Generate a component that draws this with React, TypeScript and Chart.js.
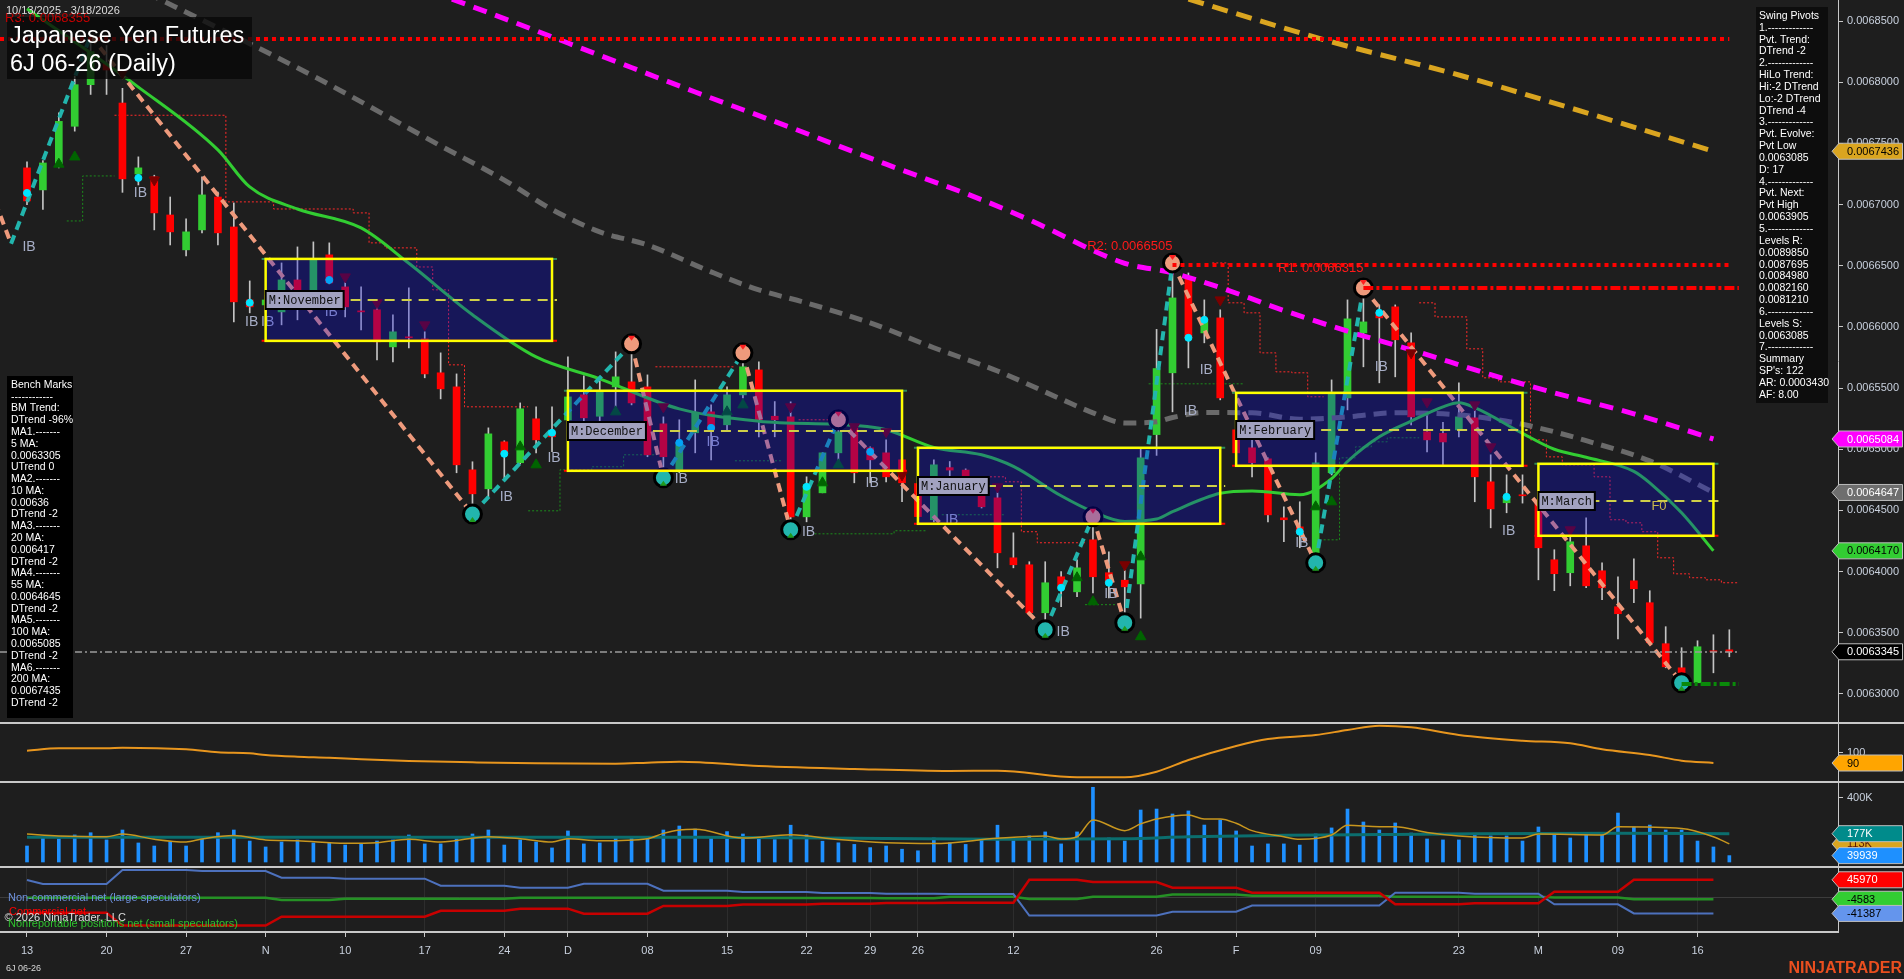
import React, { useEffect, useRef } from 'react';
import { Chart, registerables } from 'chart.js';

Chart.register(...registerables);

const FONT = '"Liberation Sans", Arial, Helvetica, sans-serif';
const MONO = '"Liberation Mono", "Courier New", monospace';
const W = 1904;
const AXIS_W = 66;
const PLOT_R = W - AXIS_W;
const X_MIN = -1.697;
const X_MAX = 113.83;
const BG = '#1e1e1e';
const AXIS_TXT = '#c9d1de';
const LINE_C = '#c8c8c8';

// ---------------- price data (daily bars, index 0 = Oct 13 2025) ----------------
const opens = [
  0.0067300, 0.0067120, 0.0067330, 0.0067640, 0.0067980, 0.0068150, 0.0067830, 0.0067250, 0.0067226, 0.0066915,
  0.0066630, 0.0066793, 0.0067062, 0.0066817, 0.0066221, 0.0066180, 0.0066123, 0.0066384, 0.0066164, 0.0066589,
  0.0066327, 0.0066131, 0.0066140, 0.0065837, 0.0065919, 0.0065902, 0.0065625, 0.0065510, 0.0064832, 0.0064677,
  0.0065061, 0.0064890, 0.0065249, 0.0065135, 0.0065240, 0.0065445, 0.0065270, 0.0065510, 0.0065551, 0.0065510,
  0.0065208, 0.0064816, 0.0065135, 0.0065306, 0.0065200, 0.0065445, 0.0065649, 0.0065270, 0.0065265, 0.0064448,
  0.0064644, 0.0064971, 0.0065175, 0.0065012, 0.0064971, 0.0064914, 0.0064720, 0.0064424, 0.0064850, 0.0064830,
  0.0064690, 0.0064603, 0.0064113, 0.0064056, 0.0063664, 0.0063958, 0.0063835, 0.0064260, 0.0063991, 0.0063930,
  0.0063900, 0.0065120, 0.0065625, 0.0066401, 0.0065951, 0.0066074, 0.0065159, 0.0065012, 0.0064922, 0.0064440,
  0.0064366, 0.0064154, 0.0064808, 0.0065420, 0.0065951, 0.0066115, 0.0066164, 0.0065870, 0.0065143, 0.0065130,
  0.0065159, 0.0065257, 0.0064734, 0.0064563, 0.0064628, 0.0064587, 0.0064097, 0.0063991, 0.0064211, 0.0064007,
  0.0063713, 0.0063925, 0.0063746, 0.0063411, 0.0063214, 0.0063092, 0.0063353, 0.0063361,
];
const highs = [
  0.0067350, 0.0067360, 0.0067750, 0.0068050, 0.0068380, 0.0068300, 0.0067950, 0.0067390, 0.0067240, 0.0067062,
  0.0066883, 0.0067226, 0.0067103, 0.0067013, 0.0066376, 0.0066260, 0.0066523, 0.0066654, 0.0066695, 0.0066687,
  0.0066425, 0.0066327, 0.0066221, 0.0066099, 0.0066319, 0.0065960, 0.0065788, 0.0065616, 0.0064898, 0.0065175,
  0.0065069, 0.0065379, 0.0065347, 0.0065347, 0.0065755, 0.0065600, 0.0065560, 0.0065796, 0.0065870, 0.0065608,
  0.0065265, 0.0065241, 0.0065567, 0.0065363, 0.0065510, 0.0065788, 0.0065714, 0.0065390, 0.0065388, 0.0064775,
  0.0064971, 0.0065241, 0.0065200, 0.0065020, 0.0065077, 0.0064920, 0.0064760, 0.0064914, 0.0064900, 0.0064840,
  0.0064770, 0.0064644, 0.0064317, 0.0064081, 0.0064081, 0.0064000, 0.0064097, 0.0064448, 0.0064162, 0.0064040,
  0.0065000, 0.0065980, 0.0066523, 0.0066441, 0.0066221, 0.0066140, 0.0065200, 0.0065135, 0.0064930, 0.0064530,
  0.0064571, 0.0064971, 0.0065567, 0.0066221, 0.0066319, 0.0066180, 0.0066180, 0.0065951, 0.0065298, 0.0065220,
  0.0065543, 0.0065363, 0.0064955, 0.0064791, 0.0064791, 0.0064600, 0.0064179, 0.0064285, 0.0064440, 0.0064072,
  0.0063958, 0.0064105, 0.0063844, 0.0063550, 0.0063378, 0.0063435, 0.0063484, 0.0063525,
];
const lows = [
  0.0067000, 0.0066960, 0.0067300, 0.0067600, 0.0067900, 0.0067900, 0.0067100, 0.0067160, 0.0066793, 0.0066670,
  0.0066580, 0.0066769, 0.0066670, 0.0066041, 0.0066115, 0.0066120, 0.0066017, 0.0066058, 0.0066150, 0.0066352,
  0.0066082, 0.0065976, 0.0065731, 0.0065714, 0.0065829, 0.0065584, 0.0065412, 0.0064808, 0.0064470, 0.0064612,
  0.0064767, 0.0064880, 0.0064971, 0.0064980, 0.0065200, 0.0065200, 0.0065230, 0.0065347, 0.0065363, 0.0064939,
  0.0064767, 0.0064808, 0.0064971, 0.0064914, 0.0065150, 0.0065420, 0.0065102, 0.0065102, 0.0064342, 0.0064407,
  0.0064644, 0.0064857, 0.0064726, 0.0064726, 0.0064734, 0.0064571, 0.0064420, 0.0064407, 0.0064780, 0.0064640,
  0.0064520, 0.0064031, 0.0064031, 0.0063648, 0.0063525, 0.0063713, 0.0063795, 0.0063827, 0.0063786, 0.0063582,
  0.0063620, 0.0064950, 0.0065306, 0.0065665, 0.0065870, 0.0065404, 0.0064950, 0.0064775, 0.0064407, 0.0064244,
  0.0064195, 0.0064072, 0.0064790, 0.0065322, 0.0065674, 0.0065543, 0.0065592, 0.0065200, 0.0064979, 0.0064860,
  0.0065102, 0.0064571, 0.0064358, 0.0064481, 0.0064560, 0.0063933, 0.0063844, 0.0063884, 0.0063868, 0.0063770,
  0.0063451, 0.0063746, 0.0063419, 0.0063214, 0.0063092, 0.0063092, 0.0063173, 0.0063304,
];
const closes = [
  0.0067030, 0.0067340, 0.0067680, 0.0067980, 0.0068250, 0.0068100, 0.0067210, 0.0067300, 0.0066932, 0.0066777,
  0.0066777, 0.0067079, 0.0066769, 0.0066205, 0.0066164, 0.0066220, 0.0066384, 0.0066164, 0.0066548, 0.0066360,
  0.0066164, 0.0066123, 0.0065878, 0.0065960, 0.0065911, 0.0065616, 0.0065494, 0.0064873, 0.0064636, 0.0065126,
  0.0064971, 0.0065331, 0.0065077, 0.0065102, 0.0065428, 0.0065257, 0.0065470, 0.0065592, 0.0065379, 0.0064955,
  0.0064939, 0.0065053, 0.0065298, 0.0065159, 0.0065445, 0.0065674, 0.0065241, 0.0065241, 0.0064448, 0.0064709,
  0.0064971, 0.0065143, 0.0064808, 0.0064914, 0.0064775, 0.0064726, 0.0064450, 0.0064873, 0.0064830, 0.0064650,
  0.0064530, 0.0064154, 0.0064056, 0.0063664, 0.0063909, 0.0063876, 0.0064031, 0.0063958, 0.0063909, 0.0063876,
  0.0064930, 0.0065660, 0.0066237, 0.0065911, 0.0066058, 0.0065420, 0.0064971, 0.0064890, 0.0064464, 0.0064424,
  0.0064317, 0.0064890, 0.0065461, 0.0066066, 0.0066041, 0.0066074, 0.0065895, 0.0065265, 0.0065077, 0.0065060,
  0.0065265, 0.0064775, 0.0064513, 0.0064612, 0.0064620, 0.0064195, 0.0063983, 0.0064244, 0.0063884, 0.0063868,
  0.0063656, 0.0063860, 0.0063419, 0.0063222, 0.0063173, 0.0063386, 0.0063345, 0.0063345,
];

// moving averages (bar index / value)
const ma20Idx = [0, 7, 12, 14, 17, 21, 24, 28, 32, 36, 41, 46, 52, 54, 57, 60, 62, 65, 67, 69, 71, 72, 75, 77, 80, 82, 83, 85, 87, 89, 90, 91, 94, 96, 98, 101, 102, 104, 106];
const ma20Val = [0.0068600, 0.0067960, 0.0067447, 0.0067144, 0.0066964, 0.0066809, 0.0066520, 0.0066100, 0.0065755, 0.0065576, 0.0065330, 0.0065230, 0.0065195, 0.0065160, 0.0065015, 0.0064955, 0.0064860, 0.0064620, 0.0064490, 0.0064410, 0.0064430, 0.0064490, 0.0064640, 0.0064660, 0.0064628, 0.0064760, 0.0064900, 0.0065102, 0.0065230, 0.0065347, 0.0065380, 0.0065340, 0.0065130, 0.0065000, 0.0064935, 0.0064820, 0.0064726, 0.0064481, 0.0064170];
const ma55Idx = [-2, 8, 18, 26, 30, 33, 36, 39, 43, 46, 49, 53, 57, 61, 65, 67, 69, 71, 72, 74, 77, 80, 83, 86, 89, 92, 95, 98, 102, 106];
const ma55Val = [0.0069327, 0.0068700, 0.0068050, 0.0067480, 0.0067200, 0.0066960, 0.0066777, 0.0066670, 0.0066450, 0.0066303, 0.0066196, 0.0066033, 0.0065830, 0.0065640, 0.0065410, 0.0065298, 0.0065215, 0.0065225, 0.0065260, 0.0065300, 0.0065298, 0.0065245, 0.0065265, 0.0065298, 0.0065290, 0.0065250, 0.0065175, 0.0065070, 0.0064905, 0.0064647];
const ma100Idx = [24, 30, 36, 42, 48, 54, 60, 63, 69, 72, 77, 78, 83, 87, 92, 96, 101, 106];
const ma100Val = [0.0068810, 0.0068520, 0.0068220, 0.0067920, 0.0067630, 0.0067330, 0.0067040, 0.0066875, 0.0066520, 0.0066442, 0.0066230, 0.0066180, 0.0065965, 0.0065813, 0.0065610, 0.0065461, 0.0065290, 0.0065084];
const ma200Idx = [70, 74, 82, 90, 97, 106];
const ma200Val = [0.0068800, 0.0068640, 0.0068330, 0.0068059, 0.0067790, 0.0067436];

// swing pivots (zig-zag)
const swingIdx = [-3, -1, 4, 28, 38, 40, 45, 48, 51, 64, 67, 69, 72, 81, 84, 104];
const swingPx = [0.0067365, 0.0066680, 0.0068380, 0.0064470, 0.0065862, 0.0064767, 0.0065788, 0.0064342, 0.0065241, 0.0063525, 0.0064448, 0.0063582, 0.0066523, 0.0064072, 0.0066319, 0.0063092];
const swingKind = ['H', 'L', 'H', 'L', 'H', 'L', 'H', 'L', 'H', 'L', 'H', 'L', 'H', 'L', 'H', 'L'];
const swingMarked = [false, false, false, true, true, true, true, true, true, true, true, true, true, true, true, true];

// levels
const levelR3 = 0.0068355;
const levelR2 = 0.0066505;
const levelR1 = 0.0066315;
const levelS1 = 0.0063085;
const lastClose = 0.0063345;

// month boxes
const monthNames = ['November', 'December', 'January', 'February', 'March'];
const boxStart = [15, 34, 56, 76, 95];
const boxEnd = [33, 55, 75, 94, 106];
const boxHigh = [0.0066556, 0.0065478, 0.0065012, 0.0065461, 0.0064881];
const boxLow = [0.0065886, 0.0064824, 0.0064391, 0.0064865, 0.0064293];
const boxMid = [0.0066221, 0.0065151, 0.0064701, 0.0065159, 0.0064579];

// markers
const upTriIdx = [2, 3, 31, 32, 37, 44, 45, 50, 51, 66, 67, 70, 70, 81, 82];
const upTriPx = [0.0067330, 0.0067389, 0.0065020, 0.0064873, 0.0065306, 0.0065306, 0.0065363, 0.0064726, 0.0064873, 0.0063950, 0.0063754, 0.0064121, 0.0063468, 0.0064530, 0.0064571];
const dnTriIdx = [6, 8, 20, 22, 25, 40, 48, 52, 54, 55, 61, 69, 75, 87, 88, 91, 92, 97];
const dnTriPx = [0.0068076, 0.0067201, 0.0066409, 0.0066197, 0.0066017, 0.0065347, 0.0065347, 0.0065184, 0.0065143, 0.0064791, 0.0064693, 0.0064056, 0.0066221, 0.0065788, 0.0065388, 0.0065363, 0.0065020, 0.0064342];
const dotIdx = [0, 7, 14, 19, 30, 33, 41, 43, 49, 53, 65, 68, 73, 74, 80, 85, 93];
const dotPx = [0.0067095, 0.0067218, 0.0066197, 0.0066384, 0.0064963, 0.0065135, 0.0065053, 0.0065175, 0.0064693, 0.0064979, 0.0063868, 0.0063909, 0.0065911, 0.0066058, 0.0064326, 0.0066115, 0.0064611];
const ibIdx = [0, 7, 14, 15, 19, 30, 33, 41, 43, 49, 53, 58, 65, 68, 73, 74, 80, 85, 93];
const ibPx = [0.0066654, 0.0067095, 0.0066041, 0.0066041, 0.0066123, 0.0064611, 0.0064930, 0.0064759, 0.0065061, 0.0064326, 0.0064726, 0.0064424, 0.0063509, 0.0063819, 0.0065314, 0.0065649, 0.0064236, 0.0065674, 0.0064334];

// trailing stop steps (per bar, null = not plotted)
const N = null;
const redStop = [
  N, N, N, N, N, N, 0.0067730, 0.0067730, 0.0067730, 0.0067730,
  0.0067730, 0.0067730, 0.0067730, 0.0067022, 0.0067022, 0.0067022, 0.0066964, 0.0066964, 0.0066964, 0.0066964,
  0.0066964, 0.0066932, 0.0066687, 0.0066646, 0.0066646, 0.0066490, 0.0066303, 0.0065690, 0.0065347, 0.0065347,
  0.0065347, 0.0065347, N, N, N, N, N, N, N, N,
  0.0065674, 0.0065674, 0.0065674, 0.0065674, 0.0065674, N, N, N, N, 0.0065241,
  0.0065241, N, N, N, N, N, N, 0.0064775, 0.0064775, 0.0064775,
  0.0064775, 0.0064775, 0.0064734, 0.0064326, 0.0064236, 0.0064236, 0.0064236, N, N, N,
  N, N, N, N, N, 0.0066523, 0.0066197, 0.0066115, 0.0065788, 0.0065633,
  0.0065625, 0.0065429, N, N, N, N, N, N, 0.0066197, 0.0066082,
  0.0066082, 0.0065821, 0.0065584, 0.0065551, 0.0065551, 0.0065077, 0.0064938, 0.0064873, 0.0064873, 0.0064775,
  0.0064424, 0.0064399, 0.0064326, 0.0064113, 0.0063982, 0.0063950, 0.0063933, 0.0063909,
];
const greenStop = [
  N, N, N, 0.0066866, 0.0067234, 0.0067234, N, N, N, N,
  N, N, N, N, N, N, N, N, N, N,
  N, N, N, N, N, N, N, N, N, N,
  N, N, 0.0064497, 0.0064497, 0.0064832, 0.0064832, 0.0064857, 0.0064857, 0.0064955, 0.0064955,
  N, N, N, N, N, 0.0064906, 0.0064906, 0.0064906, N, N,
  0.0064309, 0.0064309, 0.0064309, 0.0064309, 0.0064309, 0.0064334, 0.0064334, N, 0.0064465, 0.0064465,
  0.0064465, 0.0064465, N, N, N, N, N, 0.0063730, 0.0063730, N,
  N, 0.0065535, 0.0065535, 0.0065535, 0.0065535, 0.0065535, 0.0065535, N, N, N,
  N, N, 0.0064260, 0.0064930, 0.0065020, 0.0065061, 0.0065094, 0.0065094, N, N,
  N, N, N, N, N, N, N, N, N, N,
  N, N, N, N, N, N, N, N,
];

const priceTicks = [0.0063, 0.00635, 0.0064, 0.00645, 0.0065, 0.00655, 0.0066, 0.00665, 0.0067, 0.00675, 0.0068, 0.00685];

// ---------------- lower panels ----------------
const oscIdx = [0, 2, 5, 6, 10, 12, 14, 15, 17, 19, 21, 24, 28, 32, 37, 39, 41, 46, 52, 58, 61, 66, 69, 71, 73, 76, 78, 81, 83, 85, 87, 90, 94, 97, 99, 102, 104, 106];
const oscVal = [102.3, 104.7, 104.7, 105.3, 103.7, 100.7, 99.7, 98, 96.3, 95.3, 93.7, 92, 90.7, 89.7, 89.3, 90.3, 91.3, 87, 84, 82, 82.3, 75.7, 75.7, 81.3, 93, 107, 114, 118, 123, 127.3, 125.7, 118, 112.3, 109.7, 103.7, 98, 92.3, 90];

const volumes = [
  100000, 158000, 144000, 169000, 183000, 138000, 200000, 119000, 100000, 127000,
  100000, 144000, 183000, 200000, 131000, 94000, 125000, 138000, 119000, 119000,
  106000, 113000, 131000, 138000, 169000, 113000, 113000, 144000, 175000, 200000,
  106000, 138000, 125000, 88000, 194000, 113000, 119000, 156000, 150000, 156000,
  200000, 225000, 206000, 160000, 190000, 175000, 150000, 140000, 230000, 170000,
  130000, 120000, 110000, 90000, 100000, 80000, 70000, 150000, 120000, 110000,
  140000, 230000, 133000, 163000, 188000, 113000, 188000, 467000, 150000, 131000,
  325000, 331000, 300000, 319000, 231000, 263000, 194000, 100000, 113000, 113000,
  106000, 175000, 213000, 331000, 250000, 200000, 244000, 181000, 144000, 138000,
  138000, 175000, 163000, 163000, 131000, 219000, 169000, 150000, 181000, 169000,
  306000, 219000, 231000, 200000, 200000, 131000, 94000, 39939,
];
const volAvgIdx = [0, 2, 5, 6, 8, 10, 11, 13, 15, 17, 20, 22, 24, 26, 29, 31, 33, 34, 36, 39, 40, 41, 42, 45, 48, 51, 54, 57, 61, 64, 65, 66, 67, 69, 70, 71, 73, 74, 75, 76, 77, 79, 80, 82, 83, 85, 86, 88, 90, 94, 95, 99, 100, 104, 106, 107];
const volAvgVal = [175000, 163000, 158000, 175000, 142000, 125000, 144000, 165000, 138000, 133000, 117000, 121000, 142000, 125000, 158000, 146000, 125000, 146000, 133000, 146000, 179000, 200000, 204000, 150000, 170000, 140000, 120000, 115000, 148000, 163000, 144000, 158000, 263000, 196000, 238000, 269000, 294000, 269000, 269000, 242000, 196000, 158000, 142000, 169000, 229000, 221000, 221000, 185000, 163000, 150000, 175000, 169000, 221000, 210000, 158000, 113000];
const volSlowIdx = [0, 42, 50, 61, 69, 73, 79, 85, 91, 100, 107];
const volSlowVal = [154000, 155000, 150000, 142000, 145000, 158000, 167000, 172000, 176000, 179000, 177000];

const cotStarts = [0, 1, 6, 11, 16, 20, 26, 31, 35, 40, 45, 50, 54, 58, 63, 67, 72, 77, 86, 91, 96, 101];
const cotNonComm = [45500, 35000, 71400, 68800, 51500, 48900, 30700, 25500, 35800, 17700, 14000, 12000, 10000, 9000, -47000, -47000, -37000, -21000, 12500, 10000, -17700, -41387];
const cotComm = [-39400, -39400, -73000, -73000, -49800, -49800, -34300, -29000, -42000, -22000, -18000, -16000, -14000, -13400, 46000, 40000, 25500, 12500, -17700, -15000, 15000, 45970];
const cotNonRep = [-500, -500, -500, -500, -6500, -3500, -3500, -500, -500, -500, -1000, -1500, -2000, 2000, -4000, 2000, 8000, 4700, 2000, 2000, 0, -4583];
const cotLast = 106;

const dateTickIdx = [0, 5, 10, 15, 20, 25, 30, 34, 39, 44, 49, 53, 56, 62, 71, 76, 81, 90, 95, 100, 105];
const dateTickLbl = ['13', '20', '27', 'N', '10', '17', '24', 'D', '08', '15', '22', '29', '26', '12', '26', 'F', '09', '23', 'M', '09', '16'];

const pivotText = ['Swing Pivots', '1.-------------', 'Pvt. Trend:', 'DTrend -2', '2.-------------', 'HiLo Trend:', 'Hi:-2 DTrend', 'Lo:-2 DTrend', 'DTrend -4', '3.-------------', 'Pvt. Evolve:', 'Pvt Low', '0.0063085', 'D: 17', '4.-------------', 'Pvt. Next:', 'Pvt High', '0.0063905', '5.-------------', 'Levels R:', '0.0089850', '0.0087695', '0.0084980', '0.0082160', '0.0081210', '6.-------------', 'Levels S:', '0.0063085', '7.-------------', 'Summary', "SP's: 122", 'AR: 0.0003430', 'AF: 8.00'];
const benchText = ['Bench Marks', '------------', 'BM Trend:', 'DTrend -96%', 'MA1.-------', '5 MA:', '0.0063305', 'UTrend 0', 'MA2.-------', '10 MA:', '0.00636', 'DTrend -2', 'MA3.-------', '20 MA:', '0.006417', 'DTrend -2', 'MA4.-------', '55 MA:', '0.0064645', 'DTrend -2', 'MA5.-------', '100 MA:', '0.0065085', 'DTrend -2', 'MA6.-------', '200 MA:', '0.0067435', 'DTrend -2'];

// ---------------- helpers ----------------
const xy = (xs: number[], ys: (number | null)[]) => xs.map((x, k) => ({ x, y: ys[k] }));

function perBarSteps(vals: (number | null)[]) {
  const pts: any[] = [];
  vals.forEach((v, k) => {
    if (v === null) { pts.push({ x: k, y: null }); return; }
    pts.push({ x: k - 0.5, y: v }, { x: k + 0.5, y: v });
  });
  return pts;
}

function weekSteps(starts: number[], vals: number[], last: number) {
  const pts: any[] = [];
  starts.forEach((s, k) => {
    const e = k < starts.length - 1 ? starts[k + 1] - 1 : last;
    pts.push({ x: s, y: vals[k] });
    if (e > s) pts.push({ x: e, y: vals[k] });
  });
  return pts;
}

function drawTag(ctx: CanvasRenderingContext2D, y: number, text: string, bg: string, fg: string) {
  const h = 16;
  ctx.save();
  ctx.beginPath();
  ctx.moveTo(PLOT_R - 6, y);
  ctx.lineTo(PLOT_R + 1, y - h / 2);
  ctx.lineTo(W - 1.5, y - h / 2);
  ctx.lineTo(W - 1.5, y + h / 2);
  ctx.lineTo(PLOT_R + 1, y + h / 2);
  ctx.closePath();
  ctx.fillStyle = bg;
  ctx.fill();
  ctx.strokeStyle = '#bdbdbd';
  ctx.lineWidth = 1;
  ctx.stroke();
  ctx.fillStyle = fg;
  ctx.font = `11px ${FONT}`;
  ctx.textAlign = 'left';
  ctx.textBaseline = 'middle';
  ctx.fillText(text, PLOT_R + 9, y + 0.5);
  ctx.restore();
}

const bgPlugin = {
  id: 'bgFill',
  beforeDraw(chart: any) {
    const { ctx, width, height } = chart;
    ctx.save();
    ctx.fillStyle = BG;
    ctx.fillRect(0, 0, width, height);
    ctx.restore();
  },
};

const topSeparator = {
  id: 'topSep',
  afterDraw(chart: any) {
    const { ctx, width } = chart;
    ctx.save();
    ctx.strokeStyle = LINE_C;
    ctx.lineWidth = 2;
    ctx.beginPath();
    ctx.moveTo(0, 1);
    ctx.lineTo(width, 1);
    ctx.stroke();
    ctx.restore();
  },
};

const xHidden = { type: 'linear', min: X_MIN, max: X_MAX, offset: false, display: false };

function yAxis(min: number, max: number, tickVals: number[], fmt: (v: number) => string) {
  return {
    type: 'linear',
    position: 'right',
    min,
    max,
    afterBuildTicks: (s: any) => { s.ticks = tickVals.map((v) => ({ value: v })); },
    afterFit: (s: any) => { s.width = AXIS_W; s.paddingTop = 0; s.paddingBottom = 0; },
    ticks: { color: AXIS_TXT, font: { family: FONT, size: 11 }, padding: 4, callback: (v: any) => fmt(Number(v)) },
    grid: { drawOnChartArea: false, drawTicks: true, tickLength: 5, color: LINE_C },
    border: { display: true, color: LINE_C, width: 1 },
  };
}

const commonOpts = {
  responsive: false,
  animation: false,
  devicePixelRatio: 1,
  events: [],
  layout: { padding: 0, autoPadding: false },
  plugins: { legend: { display: false }, tooltip: { enabled: false } },
};

// ---------------- main chart ----------------
function mainConfig(): any {
  const bodies = opens.map((o, i) => ({ x: i, y: [Math.min(o, closes[i]), Math.max(o, closes[i])] }));
  const wicks = opens.map((_, i) => ({ x: i, y: [lows[i], highs[i]] }));
  const bodyColors = opens.map((o, i) => (closes[i] >= o ? '#32cd32' : '#ff0000'));
  const teal = '#22b5ad';
  const salmon = '#ee9a7c';

  const overlay = {
    id: 'mainOverlay',
    afterDatasetsDraw(chart: any) {
      const { ctx } = chart;
      const xs = chart.scales.x;
      const ys = chart.scales.y;
      const px = (i: number) => xs.getPixelForValue(i);
      const py = (v: number) => ys.getPixelForValue(v);
      ctx.save();

      // swing arrows in circles
      swingIdx.forEach((i, k) => {
        if (!swingMarked[k]) return;
        const cx = px(i), cy = py(swingPx[k]);
        ctx.beginPath();
        if (swingKind[k] === 'H') {
          ctx.fillStyle = '#ff2020';
          ctx.moveTo(cx - 3.5, cy - 8); ctx.lineTo(cx + 3.5, cy - 8); ctx.lineTo(cx, cy - 3);
        } else {
          ctx.fillStyle = '#1f9a1f';
          ctx.moveTo(cx - 3.5, cy + 8); ctx.lineTo(cx + 3.5, cy + 8); ctx.lineTo(cx, cy + 3);
        }
        ctx.closePath();
        ctx.fill();
      });

      // IB labels
      ctx.font = `14px ${FONT}`;
      ctx.fillStyle = '#a7aec6';
      ctx.textAlign = 'center';
      ctx.textBaseline = 'middle';
      ibIdx.forEach((i, k) => ctx.fillText('IB', px(i) + 2, py(ibPx[k])));

      // level lines
      const hl = (v: number, a: number, b: number, color: string, w: number, dash: number[]) => {
        const yy = Math.round(py(v));
        ctx.beginPath();
        ctx.setLineDash(dash);
        ctx.strokeStyle = color;
        ctx.lineWidth = w;
        ctx.moveTo(px(a), yy);
        ctx.lineTo(px(b), yy);
        ctx.stroke();
      };
      hl(lastClose, X_MIN, 107.6, '#9c9c9c', 1.5, [7, 3, 2, 3]);
      hl(levelR3, X_MIN, 107, '#ff0000', 4, [4, 4]);
      hl(levelR2, 72, 107, '#ff0000', 4, [4, 4]);
      hl(levelR1, 84, 107.6, '#ff0000', 4, [10, 3, 3, 3]);
      hl(levelS1, 104, 107.6, '#0a8a0a', 4, [10, 3, 3, 3]);
      ctx.setLineDash([]);

      // month boxes: translucent fill
      monthNames.forEach((_, k) => {
        const x0 = px(boxStart[k]), x1 = px(boxEnd[k]);
        const y0 = py(boxHigh[k]), y1 = py(boxLow[k]);
        ctx.fillStyle = 'rgba(10,10,230,0.3)';
        ctx.fillRect(x0, y0, x1 - x0, y1 - y0);
      });
      monthNames.forEach((name, k) => {
        const x0 = px(boxStart[k]), x1 = px(boxEnd[k]);
        const y0 = py(boxHigh[k]), y1 = py(boxLow[k]);
        const ym = Math.round(py(boxMid[k]));
        // corner ticks
        ctx.lineWidth = 2;
        ctx.strokeStyle = '#2e8b57';
        ctx.beginPath(); ctx.moveTo(x0 - 4, y0); ctx.lineTo(x1 + 5, y0); ctx.stroke();
        ctx.strokeStyle = '#ff0000';
        ctx.beginPath(); ctx.moveTo(x0 - 4, y1); ctx.lineTo(x1 + 5, y1); ctx.stroke();
        // midline
        ctx.strokeStyle = '#cfcf48';
        ctx.lineWidth = 2;
        ctx.setLineDash([10, 7]);
        ctx.beginPath(); ctx.moveTo(x0, ym); ctx.lineTo(x1 + 5, ym); ctx.stroke();
        ctx.setLineDash([]);
        // border
        ctx.strokeStyle = '#ffff00';
        ctx.lineWidth = 2.5;
        ctx.strokeRect(x0, y0, x1 - x0, y1 - y0);
        // label
        const label = 'M:' + name;
        ctx.font = `12px ${MONO}`;
        const tw = ctx.measureText(label).width;
        ctx.fillStyle = '#a2a2c0';
        ctx.fillRect(x0, ym - 9, tw + 6, 18);
        ctx.strokeStyle = '#000';
        ctx.lineWidth = 2;
        ctx.strokeRect(x0, ym - 9, tw + 6, 18);
        ctx.fillStyle = '#111';
        ctx.textAlign = 'left';
        ctx.textBaseline = 'middle';
        ctx.fillText(label, x0 + 3, ym + 1);
      });
      ctx.font = `13px ${FONT}`;
      ctx.fillStyle = '#cbb94e';
      ctx.textAlign = 'left';
      ctx.fillText('F0', px(102.1), py(0.0064530));

      // R labels
      ctx.font = `13px ${FONT}`;
      ctx.fillStyle = '#ff1a1a';
      ctx.textAlign = 'right';
      ctx.textBaseline = 'middle';
      ctx.fillText('R2: 0.0066505', px(72), py(levelR2) - 19);
      ctx.fillText('R1: 0.0066315', px(84), py(levelR1) - 20);

      // title box (semi-transparent, lines show through faintly)
      ctx.fillStyle = 'rgba(8,8,8,0.78)';
      ctx.fillRect(7, 17, 245, 62);
      ctx.fillStyle = '#c40000';
      ctx.textAlign = 'left';
      ctx.fillText('R3: 0.0068355', 5, 18);
      ctx.fillStyle = '#ffffff';
      ctx.font = `23.5px ${FONT}`;
      ctx.textBaseline = 'alphabetic';
      ctx.fillText('Japanese Yen Futures', 10, 43);
      ctx.fillText('6J 06-26 (Daily)', 10, 71);
      ctx.font = `11px ${FONT}`;
      ctx.fillStyle = '#dddddd';
      ctx.textBaseline = 'middle';
      ctx.fillText('10/13/2025 - 3/18/2026', 6, 11);

      // Swing pivots box
      ctx.fillStyle = '#0d0d0d';
      ctx.fillRect(1756, 7, 72, 396);
      ctx.fillStyle = '#ffffff';
      ctx.font = `10.5px ${FONT}`;
      pivotText.forEach((t, k) => ctx.fillText(t, 1759, 16 + k * 11.84));

      // Bench marks box
      ctx.fillStyle = '#000000';
      ctx.fillRect(7, 376, 66, 342);
      ctx.fillStyle = '#ffffff';
      benchText.forEach((t, k) => ctx.fillText(t, 11, 385 + k * 11.78));

      // price tags
      drawTag(ctx, py(ma200Val[ma200Val.length - 1]), ma200Val[ma200Val.length - 1].toFixed(7), '#daa520', '#000');
      drawTag(ctx, py(ma100Val[ma100Val.length - 1]), ma100Val[ma100Val.length - 1].toFixed(7), '#ff00ff', '#fff');
      drawTag(ctx, py(ma55Val[ma55Val.length - 1]), ma55Val[ma55Val.length - 1].toFixed(7), '#6e6e6e', '#fff');
      drawTag(ctx, py(ma20Val[ma20Val.length - 1]), ma20Val[ma20Val.length - 1].toFixed(7), '#32cd32', '#000');
      drawTag(ctx, py(lastClose), lastClose.toFixed(7), '#000000', '#fff');
      ctx.restore();
    },
  };

  return {
    type: 'bar',
    data: {
      datasets: [
        { type: 'bar', data: wicks, backgroundColor: '#c4c4c4', barThickness: 1, grouped: false, order: 30 },
        { type: 'bar', data: bodies, backgroundColor: bodyColors, barThickness: 7, minBarLength: 1, grouped: false, order: 29 },
        { type: 'line', data: perBarSteps(redStop), borderColor: '#ff2a2a', borderWidth: 1, borderDash: [2, 2], pointRadius: 0, spanGaps: false, order: 35 },
        { type: 'line', data: perBarSteps(greenStop), borderColor: '#1c8c1c', borderWidth: 1, borderDash: [2, 2], pointRadius: 0, spanGaps: false, order: 35 },
        { type: 'line', data: xy(ma200Idx, ma200Val), borderColor: '#daa520', borderWidth: 5, borderDash: [16, 9], pointRadius: 0, cubicInterpolationMode: 'monotone', order: 12 },
        { type: 'line', data: xy(ma100Idx, ma100Val), borderColor: '#ff00ff', borderWidth: 5, borderDash: [14, 9], pointRadius: 0, cubicInterpolationMode: 'monotone', order: 11 },
        { type: 'line', data: xy(ma55Idx, ma55Val), borderColor: '#6a6a6a', borderWidth: 5, borderDash: [13, 8], pointRadius: 0, cubicInterpolationMode: 'monotone', order: 13 },
        { type: 'line', data: xy(ma20Idx, ma20Val), borderColor: '#32cd32', borderWidth: 3, pointRadius: 0, cubicInterpolationMode: 'monotone', order: 10 },
        {
          type: 'line',
          data: xy(swingIdx, swingPx),
          borderWidth: 4,
          borderDash: [9, 6],
          borderColor: salmon,
          segment: { borderColor: (c: any) => (c.p1.parsed.y > c.p0.parsed.y ? teal : salmon) },
          pointRadius: swingMarked.map((m) => (m ? 9 : 0)),
          pointBackgroundColor: swingKind.map((k) => (k === 'H' ? salmon : teal)),
          pointBorderColor: '#000',
          pointBorderWidth: 3,
          order: 5,
        },
        { type: 'line', data: xy(upTriIdx, upTriPx), showLine: false, pointStyle: 'triangle', pointRadius: 6, pointBackgroundColor: '#006400', pointBorderColor: '#006400', order: 3 },
        { type: 'line', data: xy(dnTriIdx, dnTriPx), showLine: false, pointStyle: 'triangle', rotation: 180, pointRotation: 180, pointRadius: 6, pointBackgroundColor: '#7a0000', pointBorderColor: '#7a0000', order: 3 },
        { type: 'line', data: xy(dotIdx, dotPx), showLine: false, pointRadius: 3.5, pointBackgroundColor: '#00e5ff', pointBorderColor: '#00e5ff', order: 2 },
      ],
    },
    options: {
      ...commonOpts,
      scales: {
        x: xHidden,
        y: yAxis(0.0062771, 0.0068672, priceTicks, (v) => v.toFixed(7)),
      },
    },
    plugins: [bgPlugin, overlay],
  };
}

// ---------------- oscillator panel ----------------
function oscConfig(): any {
  const tags = {
    id: 'oscTags',
    afterDraw(chart: any) {
      drawTag(chart.ctx, chart.scales.y.getPixelForValue(oscVal[oscVal.length - 1]), '90', '#ffa500', '#000');
    },
  };
  return {
    type: 'line',
    data: {
      datasets: [
        { data: xy(oscIdx, oscVal), borderColor: '#e8961e', borderWidth: 2, pointRadius: 0, cubicInterpolationMode: 'monotone' },
      ],
    },
    options: {
      ...commonOpts,
      scales: { x: xHidden, y: yAxis(72, 131, [100], (v) => String(Math.round(v))) },
    },
    plugins: [bgPlugin, tags, topSeparator],
  };
}

// ---------------- volume panel ----------------
function volConfig(): any {
  const tags = {
    id: 'volTags',
    afterDraw(chart: any) {
      const py = (v: number) => chart.scales.y.getPixelForValue(v);
      drawTag(chart.ctx, py(volAvgVal[volAvgVal.length - 1]), '113K', '#daa520', '#5a1400');
      drawTag(chart.ctx, py(volumes[volumes.length - 1]), String(volumes[volumes.length - 1]), '#1e90ff', '#fff');
      drawTag(chart.ctx, py(volSlowVal[volSlowVal.length - 1]), '177K', '#008b8b', '#fff');
    },
  };
  return {
    type: 'bar',
    data: {
      datasets: [
        { type: 'line', data: xy(volAvgIdx, volAvgVal), borderColor: '#c8961e', borderWidth: 1.5, pointRadius: 0, cubicInterpolationMode: 'monotone', order: 1 },
        { type: 'line', data: xy(volSlowIdx, volSlowVal), borderColor: '#0b6e6e', borderWidth: 3, pointRadius: 0, cubicInterpolationMode: 'monotone', order: 2 },
        { type: 'bar', data: volumes.map((v, i) => ({ x: i, y: v })), backgroundColor: '#1e90ff', barThickness: 3, grouped: false, order: 3 },
      ],
    },
    options: {
      ...commonOpts,
      scales: { x: xHidden, y: yAxis(-25000, 506250, [400000], (v) => Math.round(v / 1000) + 'K') },
    },
    plugins: [bgPlugin, tags, topSeparator],
  };
}

// ---------------- COT panel (with date axis) ----------------
function cotConfig(): any {
  const extras = {
    id: 'cotExtras',
    beforeDatasetsDraw(chart: any) {
      const { ctx, chartArea } = chart;
      const y0 = Math.round(chart.scales.y.getPixelForValue(0)) + 0.5;
      ctx.save();
      ctx.strokeStyle = '#3c3c3c';
      ctx.lineWidth = 1;
      ctx.beginPath();
      ctx.moveTo(chartArea.left, y0);
      ctx.lineTo(chartArea.right, y0);
      ctx.stroke();
      ctx.restore();
    },
    afterDraw(chart: any) {
      const { ctx } = chart;
      const py = (v: number) => chart.scales.y.getPixelForValue(v);
      ctx.save();
      ctx.textAlign = 'left';
      ctx.textBaseline = 'middle';
      ctx.font = `11px ${FONT}`;
      ctx.fillStyle = '#6f93e0';
      ctx.fillText('Non-commercial net (large speculators)', 8, 32);
      ctx.fillStyle = '#ff0000';
      ctx.fillText('Commercial net', 9, 45.5);
      ctx.fillStyle = '#dddddd';
      ctx.fillText('\u00a9 2026 NinjaTrader, LLC', 4.5, 51.5);
      ctx.fillStyle = '#2ec02e';
      ctx.fillText('Nonreportable positions net (small speculators)', 8, 57.5);
      ctx.fillStyle = '#d8d8d8';
      ctx.font = `9px ${FONT}`;
      ctx.fillText('6J 06-26', 6, 103);
      ctx.font = `bold 16px ${FONT}`;
      ctx.fillStyle = '#ea4f1f';
      ctx.textAlign = 'right';
      ctx.fillText('NINJATRADER', 1902, 103);
      ctx.restore();
      drawTag(ctx, py(cotComm[cotComm.length - 1]), String(cotComm[cotComm.length - 1]), '#ff0000', '#fff');
      drawTag(ctx, py(cotNonRep[cotNonRep.length - 1]), String(cotNonRep[cotNonRep.length - 1]), '#32cd32', '#000');
      drawTag(ctx, py(cotNonComm[cotNonComm.length - 1]), String(cotNonComm[cotNonComm.length - 1]), '#6495ed', '#000');
    },
  };
  return {
    type: 'line',
    data: {
      datasets: [
        { data: weekSteps(cotStarts, cotNonRep, cotLast), borderColor: '#259125', borderWidth: 2.5, pointRadius: 0, tension: 0, order: 3 },
        { data: weekSteps(cotStarts, cotNonComm, cotLast), borderColor: '#4d71bd', borderWidth: 2, pointRadius: 0, tension: 0, order: 2 },
        { data: weekSteps(cotStarts, cotComm, cotLast), borderColor: '#c80000', borderWidth: 2.5, pointRadius: 0, tension: 0, order: 1 },
      ],
    },
    options: {
      ...commonOpts,
      scales: {
        x: {
          type: 'linear',
          min: X_MIN,
          max: X_MAX,
          offset: false,
          position: 'bottom',
          afterBuildTicks: (s: any) => { s.ticks = dateTickIdx.map((v) => ({ value: v })); },
          afterFit: (s: any) => { s.height = 47; s.paddingLeft = 0; s.paddingRight = 0; },
          ticks: {
            autoSkip: false,
            maxRotation: 0,
            color: AXIS_TXT,
            font: { family: FONT, size: 11 },
            padding: 7,
            callback: (_v: any, i: number) => dateTickLbl[i],
          },
          grid: { drawOnChartArea: true, drawTicks: true, tickLength: 5, color: 'rgba(255,255,255,0.07)', tickColor: LINE_C },
          border: { display: true, color: LINE_C, width: 2 },
        },
        y: yAxis(-89600, 81800, [], (v) => String(v)),
      },
    },
    plugins: [bgPlugin, extras, topSeparator],
  };
}

export default function App() {
  const mainRef = useRef<HTMLCanvasElement>(null);
  const oscRef = useRef<HTMLCanvasElement>(null);
  const volRef = useRef<HTMLCanvasElement>(null);
  const cotRef = useRef<HTMLCanvasElement>(null);

  useEffect(() => {
    const charts: Chart[] = [];
    if (mainRef.current) charts.push(new Chart(mainRef.current, mainConfig()));
    if (oscRef.current) charts.push(new Chart(oscRef.current, oscConfig()));
    if (volRef.current) charts.push(new Chart(volRef.current, volConfig()));
    if (cotRef.current) charts.push(new Chart(cotRef.current, cotConfig()));
    return () => charts.forEach((c) => c.destroy());
  }, []);

  const cs = (top: number): React.CSSProperties => ({ position: 'absolute', left: 0, top, display: 'block' });
  return (
    <div style={{ position: 'fixed', left: 0, top: 0, width: W, height: 979, background: BG, overflow: 'hidden' }}>
      <canvas ref={mainRef} width={W} height={722} style={cs(0)} />
      <canvas ref={oscRef} width={W} height={59} style={cs(722)} />
      <canvas ref={volRef} width={W} height={85} style={cs(781)} />
      <canvas ref={cotRef} width={W} height={113} style={cs(866)} />
    </div>
  );
}
